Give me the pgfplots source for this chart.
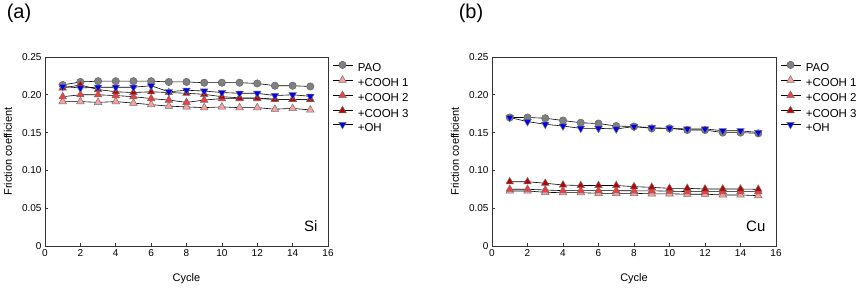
\documentclass[border=0pt]{standalone}
\usepackage{pgfplots}
\pgfplotsset{compat=1.18}
\usepackage{pgfplotstable}
\usepackage{fontspec}
\setmainfont{Liberation Sans}
\definecolor{cpao}{RGB}{128,128,128}
\definecolor{cc1}{RGB}{250,160,160}
\definecolor{cc2}{RGB}{245,60,60}
\definecolor{cc3}{RGB}{190,0,0}
\definecolor{coh}{RGB}{0,0,240}

\pgfplotstableread{
x paoa c1a c2a c3a oha
1 0.213 0.191 0.1975 0.209 0.211
2 0.217 0.191 0.200 0.213 0.209
3 0.218 0.190 0.200 0.207 0.210
4 0.218 0.191 0.199 0.204 0.210
5 0.218 0.189 0.1975 0.203 0.210
6 0.218 0.187 0.195 0.204 0.212
7 0.217 0.185 0.193 0.203 0.204
8 0.217 0.184 0.190 0.202 0.206
9 0.216 0.183 0.193 0.2006 0.205
10 0.216 0.184 0.195 0.1975 0.203
11 0.216 0.183 0.195 0.196 0.202
12 0.215 0.183 0.195 0.196 0.202
13 0.212 0.181 0.194 0.194 0.199
14 0.212 0.182 0.194 0.194 0.200
15 0.211 0.180 0.194 0.194 0.198
}\dataA

\pgfplotstableread{
x paob c1b c2b c3b ohb
1 0.170 0.0728 0.0750 0.0850 0.170
2 0.170 0.0728 0.0750 0.0850 0.1645
3 0.169 0.0710 0.0741 0.0830 0.161
4 0.166 0.0705 0.0732 0.0807 0.1587
5 0.163 0.0705 0.0732 0.0800 0.1556
6 0.162 0.0697 0.0732 0.0800 0.1556
7 0.1587 0.0697 0.0732 0.0800 0.1548
8 0.158 0.0697 0.0730 0.0785 0.158
9 0.1556 0.0690 0.0730 0.0776 0.1565
10 0.1556 0.0690 0.0725 0.0763 0.1556
11 0.1534 0.0685 0.0720 0.0763 0.1548
12 0.1534 0.0685 0.0720 0.0754 0.1548
13 0.150 0.0675 0.0720 0.0754 0.1525
14 0.150 0.0675 0.0720 0.0754 0.1525
15 0.149 0.0666 0.0720 0.0750 0.150
}\dataB

\pgfplotsset{
  panel/.style={
    scale only axis, width=283pt, height=189pt,
    xmin=0, xmax=16, ymin=0, ymax=0.25,
    xtick={0,2,...,16},
    ytick={0,0.05,0.10,0.15,0.20,0.25},
    yticklabels={0,0.05,0.10,0.15,0.20,0.25},
    tick pos=left, tick align=inside, major tick length=3pt,
    axis line style={line width=0.8pt, black!80},
    tick style={line width=0.6pt, black!80},
    /pgf/number format/assume math mode=true,
    ticklabel style={font=\fontsize{10}{10}\selectfont},
    every axis x label/.style={at={(axis description cs:0.5,0)}, anchor=center, yshift=-33pt},
    every axis y label/.style={at={([xshift=-37pt]axis description cs:0,0.5)}, anchor=center, rotate=90},
    label style={font=\fontsize{11}{11}\selectfont},
    xlabel={Cycle}, ylabel={Friction coefficient},
    legend cell align=left,
    legend style={draw=none, fill=none, inner sep=0pt, row sep=0pt,
      font=\fontsize{11.5}{11.5}\selectfont,
      at={(axis description cs:1,1)}, anchor=north west, xshift=4pt, yshift=-4pt,
      nodes={inner sep=2pt, text height=7.6pt, text depth=2.3pt},
      /tikz/every odd column/.append style={column sep=3pt}},
    legend image code/.code={\draw[mark repeat=2, mark phase=2, #1] plot coordinates {(0pt,3.9pt) (10pt,3.9pt) (20pt,3.9pt)};},
  },
  spao/.style={black, line width=0.6pt, mark=*, mark size=3.7pt, mark options={fill=cpao, draw=black!60, line width=0.5pt}},
  sc1/.style={black, line width=0.6pt, mark=triangle*, mark size=4.4pt, mark options={fill=cc1, draw=black!55, line width=0.5pt}},
  sc2/.style={black, line width=0.6pt, mark=triangle*, mark size=4.4pt, mark options={fill=cc2, draw=black!55, line width=0.5pt}},
  sc3/.style={black, line width=0.6pt, mark=triangle*, mark size=4.4pt, mark options={fill=cc3, draw=black!55, line width=0.5pt}},
  soh/.style={black, line width=0.6pt, mark=triangle*, mark size=4.4pt, mark options={fill=coh, draw=black!55, line width=0.5pt, rotate=180}},
}

\begin{document}
\begin{tikzpicture}
\path[use as bounding box] (0pt,0pt) rectangle (858pt,288pt);
\node[font=\fontsize{20}{20}\selectfont] at (19pt,275pt) {(a)};
\node[font=\fontsize{20}{20}\selectfont] at (471pt,275pt) {(b)};
\begin{axis}[panel, at={(45pt,42pt)}, anchor=south west]
\addplot[spao] table[x=x,y=paoa] {\dataA}; \addlegendentry{PAO}
\addplot[sc1] table[x=x,y=c1a] {\dataA}; \addlegendentry{+COOH 1}
\addplot[sc2] table[x=x,y=c2a] {\dataA}; \addlegendentry{+COOH 2}
\addplot[sc3] table[x=x,y=c3a] {\dataA}; \addlegendentry{+COOH 3}
\addplot[soh] table[x=x,y=oha] {\dataA}; \addlegendentry{+OH}
\node[anchor=east, font=\fontsize{15}{15}\selectfont] at (rel axis cs:0.975,0.106) {Si};
\end{axis}
\begin{axis}[panel, width=284pt, at={(492pt,42pt)}, anchor=south west]
\addplot[spao] table[x=x,y=paob] {\dataB}; \addlegendentry{PAO}
\addplot[sc1] table[x=x,y=c1b] {\dataB}; \addlegendentry{+COOH 1}
\addplot[sc2] table[x=x,y=c2b] {\dataB}; \addlegendentry{+COOH 2}
\addplot[sc3] table[x=x,y=c3b] {\dataB}; \addlegendentry{+COOH 3}
\addplot[soh] table[x=x,y=ohb] {\dataB}; \addlegendentry{+OH}
\node[anchor=east, font=\fontsize{15}{15}\selectfont] at (rel axis cs:0.975,0.106) {Cu};
\end{axis}
\end{tikzpicture}
\end{document}
